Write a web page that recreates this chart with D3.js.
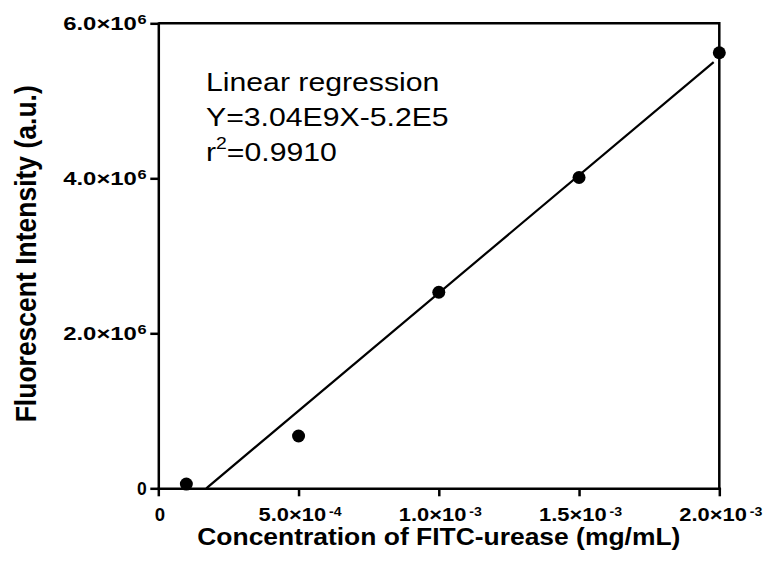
<!DOCTYPE html>
<html>
<head>
<meta charset="utf-8">
<script src="https://cdn.jsdelivr.net/npm/d3@7"></script>
<style>
  html, body { margin: 0; padding: 0; background: #fff; }
  svg { display: block; }
  text { font-family: Arial, "Liberation Sans", sans-serif; fill: #000; }
</style>
</head>
<body>
<div id="chart"></div>
<script>
// measured data
const concentration = [1e-4, 5e-4, 1e-3, 1.5e-3, 2e-3];
const intensity = [5.5e4, 6.75e5, 2.53e6, 4.01e6, 5.62e6];

// linear regression as printed on the chart
const slope = 3.04e9;
const intercept = -5.2e5;
const fitEnd = 1.98e-3;

const xTicks = [0, 5e-4, 1e-3, 1.5e-3, 2e-3];
const xTickMantissa = ["0", "5.0×10", "1.0×10", "1.5×10", "2.0×10"];
const xTickExponent = ["", "-4", "-3", "-3", "-3"];

const yTicks = [0, 2e6, 4e6, 6e6];
const yTickMantissa = ["0", "2.0×10", "4.0×10", "6.0×10"];
const yTickExponent = ["", "6", "6", "6"];

const annotation = ["Linear regression", "Y=3.04E9X-5.2E5"];
const rSquared = "0.9910";

const width = 768;
const height = 565;
const stretch = 1.14; // glyphs in the reference are a little wide

const svg = d3.select("#chart")
  .append("svg")
  .attr("width", width)
  .attr("height", height);

const x = d3.scaleLinear()
  .domain([0, 2e-3])
  .range([158.3, 719.3]);

const y = d3.scaleLinear()
  .domain([0, 6e6])
  .range([488.3, 23.3]);

// frame (top and right sides)
svg.append("path")
  .attr("d", `M${x(0)},${y(6e6)}H${x(2e-3)}V${y(0)}`)
  .attr("fill", "none")
  .attr("stroke", "#000")
  .attr("stroke-width", 2.5);

const labelWithExponent = (sel, mantissa, exponent, opts) => {
  sel.each(function (d, i) {
    const t = d3.select(this);
    t.text(null);
    t.append("tspan")
      .attr("font-size", opts.size)
      .text(mantissa[i]);
    if (exponent[i]) {
      t.append("tspan")
        .attr("dx", opts.supDx)
        .attr("dy", -5.8)
        .attr("font-size", 12)
        .text(exponent[i]);
      // reference labels are wider than plain Arial
      t.attr("textLength", opts.length).attr("lengthAdjust", "spacingAndGlyphs");
    }
  });
};

const styleAxis = (g) => {
  g.attr("font-size", 17.7)
    .attr("font-weight", "bold")
    .attr("font-family", "Arial, 'Liberation Sans', sans-serif");
  g.select(".domain").attr("stroke-width", 2.5).attr("stroke-linecap", "square");
  g.selectAll(".tick line").attr("stroke-width", 2.5);
};

// x axis
const xAxis = svg.append("g")
  .attr("transform", `translate(0, ${y(0)})`)
  .call(d3.axisBottom(x).tickValues(xTicks).tickSize(8).tickSizeOuter(0))
  .call(styleAxis);
xAxis.selectAll(".tick text")
  .attr("x", 1)
  .attr("y", 33.2)
  .attr("dy", 0)
  .call(labelWithExponent, xTickMantissa, xTickExponent, { size: 18.6, supDx: 2.5, length: 83 });

// y axis
const yAxis = svg.append("g")
  .attr("transform", `translate(${x(0)}, 0)`)
  .call(d3.axisLeft(y).tickValues(yTicks).tickSize(8).tickSizeOuter(0))
  .call(styleAxis);
yAxis.selectAll(".tick text")
  .attr("x", -11.6)
  .attr("y", 6.3)
  .attr("dy", 0)
  .call(labelWithExponent, yTickMantissa, yTickExponent, { size: 17.5, supDx: 0.5, length: 83.5 });

// axis titles
svg.append("text")
  .attr("transform", `translate(${(x(0) + x(2e-3)) / 2}, 545) scale(${stretch},1)`)
  .attr("text-anchor", "middle")
  .attr("font-size", 23.2)
  .attr("font-weight", "bold")
  .text("Concentration of FITC-urease (mg/mL)");

svg.append("text")
  .attr("transform", `translate(36, ${(y(0) + y(6e6)) / 2 - 2}) scale(${stretch},1) rotate(-90)`)
  .attr("text-anchor", "middle")
  .attr("font-size", 26.5)
  .attr("font-weight", "bold")
  .text("Fluorescent Intensity (a.u.)");

// regression line
const fitStart = -intercept / slope;
const fit = [fitStart, fitEnd].map((c) => ({ c, v: slope * c + intercept }));
svg.append("path")
  .datum(fit)
  .attr("d", d3.line().x((d) => x(d.c)).y((d) => y(d.v)))
  .attr("fill", "none")
  .attr("stroke", "#000")
  .attr("stroke-width", 2.2);

// data points
svg.selectAll(".point")
  .data(concentration.map((c, i) => ({ c, v: intensity[i] })))
  .enter()
  .append("circle")
  .attr("class", "point")
  .attr("cx", (d) => x(d.c))
  .attr("cy", (d) => y(d.v))
  .attr("r", 6.5)
  .attr("fill", "#000");

// regression annotation
const note = svg.append("g")
  .attr("transform", `translate(206, 90.7) scale(${stretch},1)`)
  .attr("font-size", 26.5);
annotation.forEach((line, i) => {
  note.append("text").attr("y", i * 35).text(line);
});
const r2 = note.append("text").attr("y", 70);
r2.append("tspan").text("r");
r2.append("tspan").attr("dy", -11.4).attr("font-size", 17).text("2");
r2.append("tspan").attr("dy", 11.4).text("=" + rSquared);
</script>
</body>
</html>
